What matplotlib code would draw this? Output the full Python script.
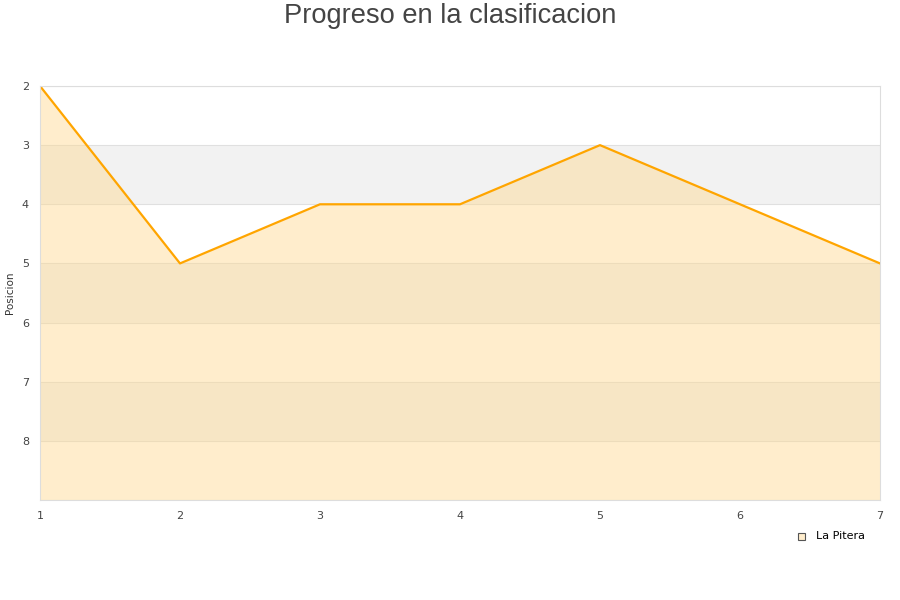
import matplotlib
matplotlib.use("Agg")
import matplotlib.pyplot as plt

jornadas = [1, 2, 3, 4, 5, 6, 7]
posiciones = [2, 5, 4, 4, 3, 4, 5]
y_ticks = [2, 3, 4, 5, 6, 7, 8]
serie = "La Pitera"

fig = plt.figure(figsize=(9, 6), dpi=100)
ax = fig.add_axes([40/900, 1-500/600, 840/900, 414/600])
ax.set_xlim(1, 7)
ax.set_ylim(9, 2)

for lo in [3, 5, 7]:
    ax.axhspan(lo, lo + 1, color="#f2f2f2", zorder=0, lw=0)
for t in range(2, 10):
    ax.axhline(t, color="#e0e0e0", lw=0.8, zorder=0.5)

ax.fill_between(jornadas, posiciones, 9, color="#ffd98f", alpha=0.45, lw=0, zorder=1)
ax.plot(jornadas, posiciones, color="#ffa500", lw=1.6, zorder=2)

ax.set_yticks(y_ticks)
ax.set_xticks(jornadas)
ax.tick_params(length=0, labelsize=8, colors="#444444", pad=8)
for s in ax.spines.values():
    s.set_color("#dddddd")
ax.set_ylabel("Posicion", fontsize=7.5, color="#333333")
ax.yaxis.set_label_coords(-25/840, 0.5)

fig.text(0.5, 1-16/600, "Progreso en la clasificacion", ha="center", va="center",
         fontsize=19.6, color="#444444", family=["Liberation Sans", "DejaVu Sans"])

fig.patches.append(plt.Rectangle((798/900, 1-540/600), 7/900, 7/600, transform=fig.transFigure,
                                 facecolor="#ffedcc", edgecolor="#555555", lw=0.8))
fig.text(816/900, 1-536/600, serie, fontsize=8, va="center", color="#000000")

fig.savefig("out.png", dpi=100)
